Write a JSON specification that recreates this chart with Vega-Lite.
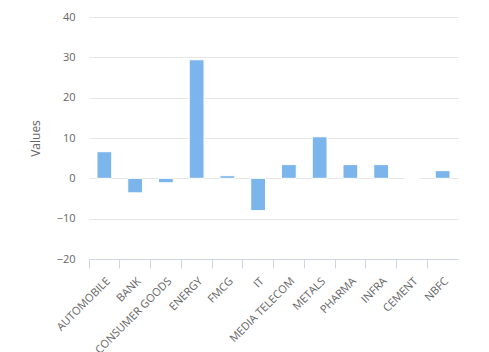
{
  "$schema": "https://vega.github.io/schema/vega-lite/v6.json",
  "width": 369,
  "height": 242,
  "autosize": "none",
  "padding": {"left": 89, "top": 17, "right": 31, "bottom": 93},
  "background": "white",
  "config": {
    "view": {"stroke": null},
    "font": "Open Sans"
  },
  "data": {
    "values": [
      {"sector": "AUTOMOBILE", "value": 6.6},
      {"sector": "BANK", "value": -3.6},
      {"sector": "CONSUMER GOODS", "value": -1.1},
      {"sector": "ENERGY", "value": 29.4},
      {"sector": "FMCG", "value": 0.65},
      {"sector": "IT", "value": -8.0},
      {"sector": "MEDIA TELECOM", "value": 3.4},
      {"sector": "METALS", "value": 10.3},
      {"sector": "PHARMA", "value": 3.4},
      {"sector": "INFRA", "value": 3.4},
      {"sector": "CEMENT", "value": 0},
      {"sector": "NBFC", "value": 1.9}
    ]
  },
  "mark": {"type": "bar", "color": "#7cb5ec", "stroke": "white", "strokeWidth": 1, "width": {"band": 0.48}},
  "encoding": {
    "x": {
      "field": "sector",
      "type": "nominal",
      "sort": null,
      "scale": {"paddingInner": 0, "paddingOuter": 0},
      "axis": {
        "title": null,
        "bandPosition": 0,
        "labelAngle": -45,
        "labelAlign": "right",
        "labelBaseline": "top",
        "labelPadding": 7,
        "labelOffset": 0,
        "labelColor": "#666666",
        "labelFontSize": 11,
        "domainColor": "#ccd6eb",
        "tickColor": "#ccd6eb",
        "tickSize": 9,
        "grid": false
      }
    },
    "y": {
      "field": "value",
      "type": "quantitative",
      "scale": {"domain": [-20, 40], "nice": false},
      "axis": {
        "title": "Values",
        "titleColor": "#666666",
        "titleFontSize": 12,
        "titleFontWeight": "normal",
        "titlePadding": 14,
        "values": [-20, -10, 0, 10, 20, 30, 40],
        "labelColor": "#666666",
        "labelFontSize": 11,
        "labelPadding": 14,
        "domain": false,
        "ticks": false,
        "gridColor": "#e6e6e6",
        "gridWidth": 1
      }
    }
  }
}
